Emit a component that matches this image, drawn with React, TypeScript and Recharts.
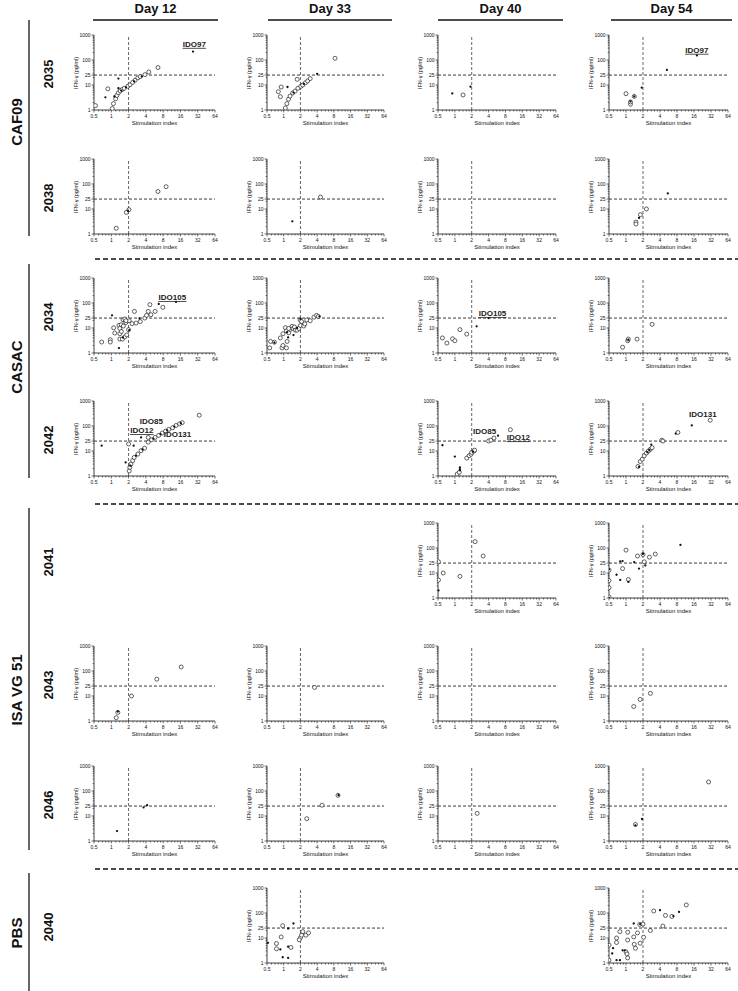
import React from 'react';
import { ScatterChart, Scatter, XAxis, YAxis, ReferenceLine, ReferenceDot } from 'recharts';

type P = [number, number];

const days = ['Day 12', 'Day 33', 'Day 40', 'Day 54'];
const groupNames = ['CAF09', 'CASAC', 'ISA VG 51', 'PBS'];
const animalIds = ['2035', '2038', '2034', '2042', '2041', '2043', '2046', '2040'];

const xMajor = [0.5, 1, 2, 4, 8, 16, 32, 64];
const yMajor = [1, 10, 25, 100, 1000];
const siCutoff = 2;
const ifnCutoff = 25;

// ---- data: [stimulation index, IFN-g pg/ml] ----
const d12_2035_open: P[] = [[0.53, 1.5], [0.87, 7], [1.04, 1.15], [1.09, 1.8], [1.19, 2.8], [1.25, 3.8], [1.33, 4.9], [1.43, 5.8], [1.55, 6.6], [1.68, 7.4], [1.94, 8.9], [2.12, 10.3], [2.36, 12.7], [2.6, 15.6], [2.9, 19.3], [3.2, 21.7], [3.86, 26], [4.5, 33], [6.5, 50]];
const d12_2035_fill: P[] = [[0.79, 3.2], [1.33, 18], [1.33, 7.4], [1.13, 3.5], [26.5, 218], [1.5, 6], [1.8, 8], [2.5, 14], [3.4, 22]];
const d33_2035_open: P[] = [[0.8, 5.4], [0.9, 8.3], [0.87, 3.4], [1.75, 16.8], [1.07, 1.2], [1.14, 1.8], [1.22, 2.7], [1.3, 3.6], [1.45, 4.8], [1.6, 5.7], [1.8, 7.4], [2.03, 8.8], [2.2, 10], [2.47, 12.4], [2.7, 14.5], [3.0, 18], [8.4, 117]];
const d33_2035_fill: P[] = [[1.17, 8.3], [4.0, 28], [1.5, 5], [2.3, 11]];
const d40_2035_open: P[] = [[1.4, 4.0]];
const d40_2035_fill: P[] = [[0.9, 4.6], [1.9, 8.6]];
const d54_2035_open: P[] = [[1.0, 4.5], [1.4, 3.5], [1.2, 1.7], [1.2, 2.1]];
const d54_2035_fill: P[] = [[1.9, 7.8], [5.3, 40], [18, 153], [1.4, 3.5], [1.2, 2.2]];

const d12_2038_open: P[] = [[1.22, 1.7], [1.83, 7.3], [2.03, 9.4], [6.5, 50], [9.0, 78]];
const d12_2038_fill: P[] = [[1.95, 8.5]];
const d33_2038_open: P[] = [[4.6, 30]];
const d33_2038_fill: P[] = [[1.43, 3.2]];
const d54_2038_open: P[] = [[1.5, 3.0], [1.5, 2.5], [1.8, 5.9], [2.3, 10]];
const d54_2038_fill: P[] = [[1.7, 4.4], [5.5, 42]];

const d12_2034_open: P[] = [[0.68, 2.75], [0.96, 3.4], [0.96, 2.75], [1.1, 10.2], [1.15, 6.3], [1.36, 12.8], [1.41, 9.6], [1.49, 13.6], [1.6, 21.5], [1.72, 23], [1.79, 16.5], [1.62, 12], [1.41, 5.9], [1.41, 3.6], [1.56, 3.6], [1.72, 4.4], [1.86, 5.3], [2.0, 8.6], [2.05, 19.5], [1.8, 19.5], [1.5, 7.3], [2.3, 14.9], [2.53, 46], [2.7, 15.8], [3.2, 18], [3.84, 25], [4.1, 32], [4.4, 46], [4.7, 86], [4.9, 34], [5.8, 46], [7.9, 67]];
const d12_2034_fill: P[] = [[1.03, 32], [1.36, 1.58], [3.1, 24], [6.7, 91], [13.4, 110], [2.05, 8.2], [1.6, 4.2]];
const d33_2034_open: P[] = [[0.56, 1.6], [0.58, 2.9], [0.68, 2.7], [0.93, 1.6], [0.97, 2.0], [1.12, 1.6], [1.15, 2.9], [0.87, 4.0], [0.97, 5.9], [1.07, 10.3], [1.12, 7.6], [1.23, 6.4], [1.32, 8.8], [1.41, 11.6], [1.47, 9.6], [1.56, 11], [1.62, 8.2], [1.74, 8.2], [1.87, 9.6], [2.0, 12.6], [1.97, 21], [2.1, 18], [2.3, 12], [2.4, 14.6], [2.6, 21], [3.0, 19.5], [3.5, 27], [3.9, 32], [4.2, 29], [1.23, 9.6]];
const d33_2034_fill: P[] = [[0.68, 2.6], [1.15, 6.8], [1.5, 5.2], [1.2, 4.2], [1.74, 10], [2.0, 23], [4.4, 29]];
const d40_2034_open: P[] = [[0.6, 4.0], [0.72, 2.5], [0.91, 3.7], [1.0, 3.1], [1.23, 8.6], [1.63, 5.7]];
const d40_2034_fill: P[] = [[2.45, 11.7], [4.0, 25]];
const d54_2034_open: P[] = [[0.87, 1.7], [1.07, 3.1], [1.1, 3.6], [1.57, 3.6], [2.9, 14]];
const d54_2034_fill: P[] = [[1.1, 3.4]];

const d12_2042_open: P[] = [[2.05, 1.6], [2.1, 2.2], [2.2, 3.0], [2.36, 4.1], [2.5, 5.5], [2.9, 7.5], [3.3, 10.3], [3.8, 13], [4.4, 22.5], [5.0, 28], [5.8, 35], [6.7, 42], [7.7, 52], [8.8, 62], [10, 73], [11.7, 85], [13.4, 105], [15.5, 123], [17.2, 136], [34, 270], [2.0, 19], [4.4, 35]];
const d12_2042_fill: P[] = [[0.68, 16.4], [2.45, 16.4], [1.78, 3.5], [3.3, 35], [2.15, 2.6], [2.7, 6.5], [3.5, 11.5], [5.4, 31], [7.2, 47], [9.4, 67], [12.5, 95], [16.3, 130]];
const d40_2042_open: P[] = [[1.1, 1.2], [1.2, 1.4], [1.63, 5.2], [1.8, 6.5], [1.95, 7.4], [2.0, 8.8], [2.2, 10], [2.25, 10.8], [4.0, 25], [4.4, 27], [5.0, 33], [9.8, 71]];
const d40_2042_fill: P[] = [[0.6, 17], [1.0, 6], [1.23, 1.7], [1.23, 1.9], [1.23, 2.2], [5.9, 41], [2.1, 9.5]];
const d54_2042_open: P[] = [[1.63, 2.4], [1.79, 3.8], [1.94, 4.7], [2.1, 6.4], [2.3, 8.3], [2.5, 10], [2.7, 11.7], [2.9, 13.6], [4.3, 27], [4.5, 25], [8.3, 55], [31, 170]];
const d54_2042_fill: P[] = [[7.6, 50], [14.6, 105], [2.8, 18], [2.4, 9], [2.6, 11], [1.7, 2.3]];

const d40_2041_open: P[] = [[0.51, 28], [0.51, 5.2], [0.62, 10], [1.23, 7.3], [2.3, 180], [3.2, 48]];
const d40_2041_fill: P[] = [[0.51, 2.0]];
const d54_2041_open: P[] = [[0.5, 13], [0.5, 5], [0.5, 2.6], [0.5, 1.1], [0.87, 15], [1.0, 82], [1.1, 5.5], [1.6, 48], [2.0, 55], [2.1, 28], [2.6, 43], [3.3, 57]];
const d54_2041_fill: P[] = [[0.68, 8.5], [0.79, 5.3], [0.79, 29], [0.87, 30], [1.1, 4.4], [1.4, 27], [1.7, 15], [2.0, 58], [2.2, 20], [9.2, 133], [0.5, 14], [0.5, 1.0]];

const d12_2043_open: P[] = [[1.22, 1.36], [1.3, 2.2], [2.25, 10], [6.2, 47], [16.5, 145]];
const d12_2043_fill: P[] = [[1.3, 2.4]];
const d33_2043_open: P[] = [[3.6, 22]];
const d54_2043_open: P[] = [[1.37, 3.8], [1.78, 7.3], [2.7, 12.8]];

const d12_2046_fill: P[] = [[1.26, 2.5], [3.65, 22], [4.2, 27]];
const d33_2046_open: P[] = [[2.6, 7.8], [4.9, 27], [9.5, 67]];
const d33_2046_fill: P[] = [[9.7, 68]];
const d40_2046_open: P[] = [[2.5, 12.8]];
const d54_2046_open: P[] = [[1.47, 4.6], [29, 230]];
const d54_2046_fill: P[] = [[1.47, 4.2], [1.92, 7.6]];

const d33_2040_open: P[] = [[0.74, 6], [0.74, 3.7], [0.9, 11], [0.96, 31], [1.35, 4.2], [2.0, 10.3], [2.1, 13], [2.2, 18], [2.5, 13], [2.8, 16], [1.9, 8.5]];
const d33_2040_fill: P[] = [[0.87, 3.5], [0.96, 1.7], [1.2, 1.6], [1.2, 4.5], [1.2, 24], [1.5, 38], [0.52, 6.4]];
const d54_2040_open: P[] = [[0.5, 5.2], [0.5, 1.3], [0.68, 6.6], [0.68, 10], [0.78, 18], [1.07, 17], [1.07, 8.3], [1.0, 2.8], [1.04, 2.3], [1.07, 1.6], [1.37, 11], [1.4, 5.6], [1.47, 3.9], [1.6, 16], [1.78, 6.2], [1.75, 35], [2.0, 36], [2.05, 10.7], [2.7, 20], [3.1, 120], [4.5, 30], [5.0, 80], [6.5, 73], [11.7, 210]];
const d54_2040_fill: P[] = [[0.59, 3.9], [0.57, 2.4], [0.68, 1.3], [0.78, 1.3], [0.87, 3.2], [0.95, 3.2], [1.37, 38], [1.78, 36], [4.0, 130], [8.7, 110], [6.9, 75]];

type Note = { x: number; y: number; text: string; underline: boolean };
const notes_d12_2035: Note[] = [{ x: 27.9, y: 444, text: 'IDO97', underline: true }];
const notes_d54_2035: Note[] = [{ x: 18, y: 258, text: 'IDO97', underline: true }];
const notes_d12_2034: Note[] = [{ x: 11.6, y: 174, text: 'IDO105', underline: true }];
const notes_d40_2034: Note[] = [{ x: 4.7, y: 40, text: 'IDO105', underline: true }];
const notes_d12_2042: Note[] = [
  { x: 5.0, y: 158, text: 'IDO85', underline: false },
  { x: 3.4, y: 69, text: 'IDO12', underline: true },
  { x: 14.2, y: 48, text: 'IDO131', underline: false },
];
const notes_d40_2042: Note[] = [
  { x: 3.4, y: 63, text: 'IDO85', underline: false },
  { x: 13.6, y: 36, text: 'IDO12', underline: true },
];
const notes_d54_2042: Note[] = [{ x: 23, y: 302, text: 'IDO131', underline: false }];

// panel grid: column = day, row = animal
const panels: { c: number; r: number; open?: P[]; fill?: P[]; notes?: Note[] }[] = [
  { c: 0, r: 0, open: d12_2035_open, fill: d12_2035_fill, notes: notes_d12_2035 },
  { c: 1, r: 0, open: d33_2035_open, fill: d33_2035_fill },
  { c: 2, r: 0, open: d40_2035_open, fill: d40_2035_fill },
  { c: 3, r: 0, open: d54_2035_open, fill: d54_2035_fill, notes: notes_d54_2035 },
  { c: 0, r: 1, open: d12_2038_open, fill: d12_2038_fill },
  { c: 1, r: 1, open: d33_2038_open, fill: d33_2038_fill },
  { c: 2, r: 1 },
  { c: 3, r: 1, open: d54_2038_open, fill: d54_2038_fill },
  { c: 0, r: 2, open: d12_2034_open, fill: d12_2034_fill, notes: notes_d12_2034 },
  { c: 1, r: 2, open: d33_2034_open, fill: d33_2034_fill },
  { c: 2, r: 2, open: d40_2034_open, fill: d40_2034_fill, notes: notes_d40_2034 },
  { c: 3, r: 2, open: d54_2034_open, fill: d54_2034_fill },
  { c: 0, r: 3, open: d12_2042_open, fill: d12_2042_fill, notes: notes_d12_2042 },
  { c: 2, r: 3, open: d40_2042_open, fill: d40_2042_fill, notes: notes_d40_2042 },
  { c: 3, r: 3, open: d54_2042_open, fill: d54_2042_fill, notes: notes_d54_2042 },
  { c: 2, r: 4, open: d40_2041_open, fill: d40_2041_fill },
  { c: 3, r: 4, open: d54_2041_open, fill: d54_2041_fill },
  { c: 0, r: 5, open: d12_2043_open, fill: d12_2043_fill },
  { c: 1, r: 5, open: d33_2043_open },
  { c: 2, r: 5 },
  { c: 3, r: 5, open: d54_2043_open },
  { c: 0, r: 6, fill: d12_2046_fill },
  { c: 1, r: 6, open: d33_2046_open, fill: d33_2046_fill },
  { c: 2, r: 6, open: d40_2046_open },
  { c: 3, r: 6, open: d54_2046_open, fill: d54_2046_fill },
  { c: 1, r: 7, open: d33_2040_open, fill: d33_2040_fill },
  { c: 3, r: 7, open: d54_2040_open, fill: d54_2040_fill },
];

// ---- layout ----
const FONT = '"Liberation Sans", Arial, sans-serif';
const COL_X = [94, 267, 438, 609];
const COL_W = [121, 117, 118, 119];
const ROW_Y = [35, 159, 278, 401, 523, 646, 766, 888];
const PLOT_H = 75;
const Y_AXIS_W = 36;
const X_AXIS_H = 21;
const M_TOP = 4;
const M_RIGHT = 4;
const DAY_LINES = [[93, 218], [268, 392], [438, 563], [611, 732]];
const GROUP_SPANS = [[20, 236], [264, 478], [508, 850], [873, 991]];
const GROUP_MID = [122, 367, 690, 933];
const SEPARATORS = [259, 504, 869];

const xTicks: number[] = [];
xMajor.slice(0, -1).forEach((a) => {
  xTicks.push(a);
  for (let k = 1; k < 5; k++) xTicks.push(+(a * (1 + k / 5)).toFixed(3));
});
xTicks.push(64);
const yTicks: number[] = [1, 10, 25, 100, 1000];
[1, 10, 100].forEach((d) => {
  for (let k = 2; k < 10; k++) yTicks.push(d * k);
});

const toPts = (a?: P[]) => (a || []).map(([x, y]) => ({ x, y }));

const XTick = ({ x, y, payload }: any) => {
  const major = xMajor.includes(payload.value);
  return (
    <g>
      <line x1={x} x2={x} y1={y} y2={y + (major ? 2.5 : 1.5)} stroke="#111" strokeWidth={0.6} />
      {major && (
        <text x={x} y={y + 8} textAnchor="middle" fontSize={5} fontFamily={FONT} fill="#111">
          {payload.value}
        </text>
      )}
    </g>
  );
};

const YTick = ({ x, y, payload }: any) => {
  const major = yMajor.includes(payload.value);
  return (
    <g>
      <line x1={x - (major ? 2.5 : 1.3)} x2={x} y1={y} y2={y} stroke="#111" strokeWidth={0.6} />
      {major && (
        <text x={x - 3.5} y={y + 1.8} textAnchor="end" fontSize={5} fontFamily={FONT} fill="#111">
          {payload.value}
        </text>
      )}
    </g>
  );
};

const NoteLabel = ({ viewBox, text, underline }: any) => {
  const cx = viewBox.x + (viewBox.width || 0) / 2;
  const cy = viewBox.y + (viewBox.height || 0) / 2;
  const w = text.length * 4.7;
  return (
    <g>
      <text x={cx} y={cy + 3} textAnchor="middle" fontSize={8} fontWeight="bold" fontFamily={FONT} fill="#222">
        {text}
      </text>
      {underline && <line x1={cx - w / 2} x2={cx + w / 2} y1={cy + 4.5} y2={cy + 4.5} stroke="#222" strokeWidth={0.8} />}
    </g>
  );
};

const openShape = (p: any) => <circle cx={p.cx} cy={p.cy} r={2} fill="#fff" stroke="#111" strokeWidth={0.65} />;
const fillShape = (p: any) => <circle cx={p.cx} cy={p.cy} r={1.15} fill="#111" />;

const Panel = ({ c, r, open, fill, notes }: { c: number; r: number; open?: P[]; fill?: P[]; notes?: Note[] }) => {
  const W = Y_AXIS_W + COL_W[c] + M_RIGHT;
  const H = M_TOP + PLOT_H + X_AXIS_H;
  return (
    <div style={{ position: 'absolute', left: COL_X[c] - Y_AXIS_W, top: ROW_Y[r] - M_TOP, width: W, height: H }}>
      <ScatterChart width={W} height={H} margin={{ top: M_TOP, right: M_RIGHT, left: 0, bottom: 0 }} style={{ overflow: 'visible' }}>
        <XAxis
          type="number"
          dataKey="x"
          scale="log"
          domain={[0.5, 64]}
          allowDataOverflow
          ticks={xTicks}
          interval={0}
          tick={<XTick />}
          tickLine={false}
          tickSize={0}
          tickMargin={0}
          height={X_AXIS_H}
          axisLine={{ stroke: '#111', strokeWidth: 0.8 }}
        />
        <YAxis
          type="number"
          dataKey="y"
          scale="log"
          domain={[1, 1000]}
          allowDataOverflow
          ticks={yTicks}
          interval={0}
          tick={<YTick />}
          tickLine={false}
          tickSize={0}
          tickMargin={0}
          width={Y_AXIS_W}
          axisLine={{ stroke: '#111', strokeWidth: 0.8 }}
        />
        <ReferenceLine x={siCutoff} stroke="#555" strokeWidth={0.9} strokeDasharray="3 2" />
        <ReferenceLine y={ifnCutoff} stroke="#222" strokeWidth={0.9} strokeDasharray="3 2" />
        <Scatter data={toPts(open)} shape={openShape} isAnimationActive={false} />
        <Scatter data={toPts(fill)} shape={fillShape} isAnimationActive={false} />
        {(notes || []).map((n, i) => (
          <ReferenceDot key={i} x={n.x} y={n.y} r={0} stroke="none" label={<NoteLabel text={n.text} underline={n.underline} />} />
        ))}
      </ScatterChart>
      <div
        style={{
          position: 'absolute',
          left: Y_AXIS_W + COL_W[c] / 2,
          top: M_TOP + PLOT_H + 13,
          transform: 'translate(-50%, -50%)',
          fontSize: 6,
          whiteSpace: 'nowrap',
          color: '#111',
        }}
      >
        Stimulation index
      </div>
      <div
        style={{
          position: 'absolute',
          left: Y_AXIS_W - 18,
          top: M_TOP + PLOT_H / 2,
          transform: 'translate(-50%, -50%) rotate(-90deg)',
          fontSize: 5.5,
          whiteSpace: 'nowrap',
          color: '#111',
        }}
      >
        IFN-γ (pg/ml)
      </div>
    </div>
  );
};

const rot: React.CSSProperties = {
  position: 'absolute',
  transform: 'translate(-50%, -50%) rotate(-90deg)',
  whiteSpace: 'nowrap',
  fontWeight: 'bold',
  color: '#111',
};

export default function App() {
  return (
    <div style={{ position: 'absolute', left: 0, top: 0, width: 738, height: 991, background: '#fff', fontFamily: FONT, overflow: 'hidden' }}>
      <svg width={738} height={991} style={{ position: 'absolute', left: 0, top: 0 }}>
        {DAY_LINES.map(([a, b], i) => (
          <line key={i} x1={a} x2={b} y1={20} y2={20} stroke="#111" strokeWidth={1.5} />
        ))}
        {GROUP_SPANS.map(([a, b], i) => (
          <line key={i} x1={29} x2={29} y1={a} y2={b} stroke="#333" strokeWidth={1.5} />
        ))}
        {SEPARATORS.map((y, i) => (
          <line key={i} x1={95} x2={738} y1={y} y2={y} stroke="#111" strokeWidth={1.5} strokeDasharray="5 3" />
        ))}
      </svg>
      {days.map((d, i) => (
        <div
          key={d}
          style={{
            position: 'absolute',
            left: (DAY_LINES[i][0] + DAY_LINES[i][1]) / 2,
            top: 8,
            transform: 'translate(-50%, -50%)',
            fontSize: 13,
            fontWeight: 'bold',
            whiteSpace: 'nowrap',
            color: '#111',
          }}
        >
          {d}
        </div>
      ))}
      {groupNames.map((g, i) => (
        <div key={g} style={{ ...rot, left: 16, top: GROUP_MID[i], fontSize: 15 }}>
          {g}
        </div>
      ))}
      {animalIds.map((a, i) => (
        <div key={a} style={{ ...rot, left: 48, top: ROW_Y[i] + PLOT_H / 2 + 1, fontSize: 13 }}>
          {a}
        </div>
      ))}
      {panels.map((p, i) => (
        <Panel key={i} {...p} />
      ))}
    </div>
  );
}
